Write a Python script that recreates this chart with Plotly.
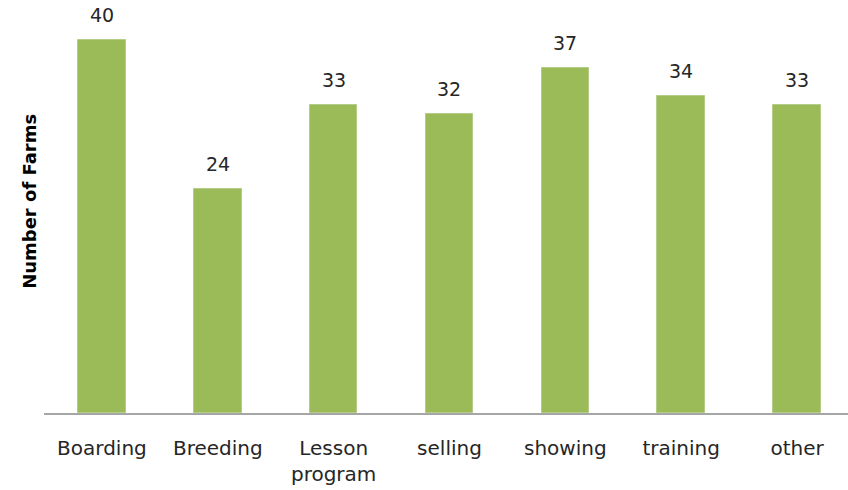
import plotly.graph_objects as go

# Farm activities and number of farms for each
categories = ["Boarding", "Breeding", "Lesson<br>program", "selling", "showing", "training", "other"]
farm_counts = [40, 24, 33, 32, 37, 34, 33]

positions = list(range(len(categories)))
label_font = "DejaVu Sans, Verdana, sans-serif"

fig = go.Figure()
fig.add_trace(go.Bar(
    x=positions,
    y=farm_counts,
    width=0.41,
    marker=dict(color="#9BBB59", line=dict(color="#B5CC86", width=1)),
    hoverinfo="skip",
))

# value labels above each bar
for xpos, val in zip(positions, farm_counts):
    fig.add_annotation(
        x=xpos, y=val, text=str(val), showarrow=False,
        yanchor="bottom", yshift=12,
        font=dict(family=label_font, size=19, color="#262626"),
    )

# rotated axis title
fig.add_annotation(
    xref="paper", yref="paper", x=-0.019, y=0.513,
    text="<b>Number of Farms</b>", textangle=-90, showarrow=False,
    xanchor="center", yanchor="middle",
    font=dict(family=label_font, size=18, color="#000000"),
)

fig.update_layout(
    width=848, height=490,
    margin=dict(l=44, r=0, t=0, b=77),
    paper_bgcolor="white", plot_bgcolor="white",
    showlegend=False,
    bargap=0,
    xaxis=dict(
        range=[-0.5, 6.44],
        tickmode="array", tickvals=positions, ticktext=categories,
        showline=True, linecolor="#A6A6A6", linewidth=2,
        showgrid=False, zeroline=False,
        ticks="outside", ticklen=16, tickcolor="rgba(0,0,0,0)",
        tickfont=dict(family=label_font, size=20, color="#262626"),
    ),
    yaxis=dict(
        range=[0, 44.27],
        showticklabels=False, showgrid=False, zeroline=False, showline=False,
    ),
)

fig.write_html("out.html")
